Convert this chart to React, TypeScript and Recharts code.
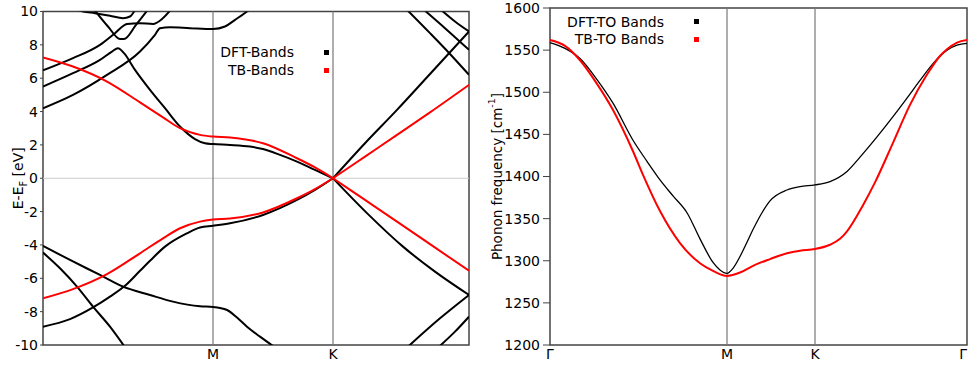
import React from 'react';
import {
  LineChart,
  Line,
  XAxis,
  YAxis,
  ReferenceLine,
  ReferenceArea,
  Legend,
} from 'recharts';

// ---- left panel: electronic bands, k-path in path units (Γ=0 … Γ=426), energies in eV
const bandPathEnd = 426;
const bandTicks = [170, 290];
const bandTickLabels = ['M', 'K'];
const energyTicks = [-10, -8, -6, -4, -2, 0, 2, 4, 6, 8, 10];

const dftBandA = [[25, 10.3], [40, 10.0], [52, 9.9], [67, 9.75], [80, 9.6], [87, 9.7], [93, 10.2]];
const dftBandB = [[50, 10.2], [65, 9.1], [77, 8.35], [81, 8.35], [93, 9.2], [106, 10.2]];
const dftBandC = [[0, 6.47], [30, 7.2], [57, 8.0], [72, 8.7], [84, 9.25], [97, 9.3], [110, 9.25], [119, 9.55], [129, 10.2]];
const dftBandD = [[0, 5.5], [30, 6.3], [57, 7.1], [69, 7.6], [75, 7.8], [81, 7.5], [92, 6.5], [107, 5.3], [122, 4.2], [137, 3.1], [152, 2.35], [162, 2.1], [170, 2.05], [187, 2.0], [207, 1.9], [220, 1.75], [237, 1.4], [254, 1.0], [272, 0.5], [290, 0]];
const dftBandDk = [[290, 0], [322, 2.1], [354, 4.1], [387, 6.25], [426, 8.8]];
const dftBandE = [[0, 4.2], [30, 5.0], [64, 6.2], [97, 7.6], [112, 8.6], [117, 9.0], [127, 9.05], [147, 9.0], [170, 8.95], [182, 9.1], [192, 9.5], [204, 10.0], [212, 10.4]];
const dftBandF = [[364, 10.1], [387, 8.7], [407, 7.45], [426, 6.2]];
const dftBandG = [[381, 10.1], [402, 9.0], [426, 7.7]];
const dftBandH = [[398, 10.1], [412, 9.4], [426, 8.8]];
const dftBandI = [[0, -4.06], [27, -4.9], [57, -5.8], [80, -6.5], [107, -7.0], [130, -7.4], [157, -7.68], [170, -7.72], [184, -7.9], [194, -8.35], [204, -8.9], [217, -9.5], [231, -10.1]];
const dftBandJ = [[0, -4.46], [17, -5.4], [34, -6.5], [50, -7.7], [67, -8.9], [81, -10.05]];
const dftBandK = [[0, -8.9], [27, -8.45], [50, -7.75], [67, -7.1], [82, -6.45], [97, -5.55], [107, -4.95], [122, -4.1], [144, -3.3], [157, -2.95], [170, -2.85], [187, -2.7], [220, -2.2], [254, -1.3], [272, -0.7], [290, 0]];
const dftBandKk = [[290, 0], [325, -2.15], [360, -4.1], [392, -5.6], [426, -7.0]];
const dftBandL = [[365, -10.1], [397, -8.4], [426, -7.0]];
const dftBandM = [[397, -10.05], [412, -9.2], [426, -8.3]];

const tbBandUp = [[0, 7.25], [30, 6.7], [64, 5.8], [97, 4.55], [120, 3.65], [137, 3.0], [157, 2.6], [170, 2.5], [187, 2.45], [220, 2.1], [254, 1.2], [272, 0.65], [290, 0]];
const tbBandUpK = [[290, 0], [322, 1.3], [354, 2.6], [387, 3.95], [426, 5.6]];
const tbBandLow = [[0, -7.2], [30, -6.65], [64, -5.75], [97, -4.5], [120, -3.6], [137, -3.0], [157, -2.6], [170, -2.48], [187, -2.42], [220, -2.05], [254, -1.2], [272, -0.65], [290, 0]];
const tbBandLowK = [[290, 0], [322, -1.3], [354, -2.6], [387, -3.95], [426, -5.55]];

const dftBands = [dftBandA, dftBandB, dftBandC, dftBandD, dftBandDk, dftBandE, dftBandF, dftBandG, dftBandH, dftBandI, dftBandJ, dftBandK, dftBandKk, dftBandL, dftBandM];
const tbBands = [tbBandUp, tbBandUpK, tbBandLow, tbBandLowK];

// ---- right panel: TO phonon branch, path units (Γ=0 … Γ=417), cm^-1
const phononPathEnd = 417;
const phononTicks = [0, 177, 265, 417];
const phononTickLabels = ['Γ', 'M', 'K', 'Γ'];
const freqTicks = [1200, 1250, 1300, 1350, 1400, 1450, 1500, 1550, 1600];

const dftTO = [[0, 1559], [15, 1552], [30, 1540], [47, 1515], [63, 1487], [83, 1443], [97, 1418], [110, 1396], [123, 1377], [137, 1357], [150, 1326], [163, 1298], [170, 1289], [177, 1285], [183, 1291], [190, 1305], [197, 1322], [203, 1337], [212, 1357], [220, 1371], [237, 1384], [250, 1388], [265, 1390], [280, 1394], [297, 1406], [310, 1423], [327, 1447], [343, 1471], [357, 1493], [370, 1514], [383, 1534], [397, 1550], [407, 1556], [417, 1558]];
const tbTO = [[0, 1562], [15, 1555], [30, 1538], [47, 1510], [63, 1479], [83, 1430], [93, 1402], [110, 1359], [130, 1321], [150, 1297], [163, 1288], [177, 1282], [190, 1286], [203, 1294], [220, 1302], [237, 1309], [250, 1312], [265, 1314], [280, 1319], [290, 1326], [297, 1335], [313, 1366], [325, 1393], [343, 1440], [360, 1485], [377, 1521], [390, 1543], [397, 1551], [407, 1559], [417, 1562]];

const bandLegend = [
  { name: 'DFT-Bands', color: '#000000' },
  { name: 'TB-Bands', color: '#ff0000' },
];
const phononLegend = [
  { name: 'DFT-TO Bands', color: '#000000' },
  { name: 'TB-TO Bands', color: '#ff0000' },
];

const FONT = '"DejaVu Sans", Verdana, sans-serif';
const toPts = (arr: number[][]) => arr.map(([k, v]) => ({ k, v }));

const AxisTitle = (props: any) => {
  const { viewBox, main, sub, sup, tail, dx } = props;
  const cx = viewBox.x + dx;
  const cy = viewBox.y + viewBox.height / 2;
  return (
    <text
      x={cx}
      y={cy}
      transform={`rotate(-90 ${cx} ${cy})`}
      textAnchor="middle"
      dominantBaseline="central"
      fontFamily={FONT}
      fontSize={props.size}
      fill="#000"
    >
      {main}
      {sub && <tspan baselineShift="sub" fontSize="70%">{sub}</tspan>}
      {sup && <tspan baselineShift="super" fontSize="70%">{sup}</tspan>}
      {tail && <tspan baselineShift="0">{tail}</tspan>}
    </text>
  );
};

// path tick: the last Γ sits on the frame edge, so it is anchored to its right end
const PathTick = (props: any) => {
  const { x, y, payload, labels, ticks, end } = props;
  const isEnd = payload.value === end;
  return (
    <text x={x} y={y} dy="0.71em" textAnchor={isEnd ? 'end' : 'middle'} fontFamily={FONT} fontSize={14} fill="#000">
      {labels[ticks.indexOf(payload.value)]}
    </text>
  );
};

const legendBox = (items: { name: string; color: string }[], rowH: number) => () => (
  <div style={{ fontFamily: FONT, fontSize: 14, color: '#000' }}>
    {items.map((it) => (
      <div key={it.name} style={{ display: 'flex', justifyContent: 'flex-end', alignItems: 'center', height: rowH }}>
        <span style={{ marginRight: 30 }}>{it.name}</span>
        <span style={{ width: 5, height: 5, background: it.color, marginRight: 1 }} />
      </div>
    ))}
  </div>
);

const BandChart = () => (
  <LineChart width={480} height={367} margin={{ top: 11.5, right: 11, bottom: 2, left: 3 }}>
    <XAxis
      dataKey="k"
      type="number"
      domain={[0, bandPathEnd]}
      ticks={bandTicks}
      tick={<PathTick labels={bandTickLabels} ticks={bandTicks} end={-1} />}
      tickSize={0}
      tickMargin={4}
      tickLine={false}
      axisLine={false}
      height={20}
      allowDataOverflow
    />
    <YAxis
      type="number"
      domain={[-10, 10]}
      ticks={energyTicks}
      tick={{ fill: '#000', fontSize: 14, fontFamily: FONT }}
      tickSize={3}
      tickMargin={2}
      tickLine={{ stroke: '#444' }}
      axisLine={false}
      width={40}
      allowDataOverflow
      label={<AxisTitle dx={15} size={14} main="E-E" sub="F" tail=" [eV]" />}
    />
    <YAxis yAxisId="r" orientation="right" mirror type="number" domain={[-10, 10]} ticks={energyTicks} tick={false} tickSize={4} tickLine={{ stroke: '#444' }} axisLine={false} width={0} />
    <ReferenceLine y={0} stroke="#cccccc" strokeWidth={1} />
    {bandTicks.map((t) => (
      <ReferenceLine key={t} x={t} stroke="#777" strokeWidth={1.2} />
    ))}
    {dftBands.map((b, i) => (
      <Line key={'d' + i} data={toPts(b)} dataKey="v" type="monotone" stroke="#000" strokeWidth={2} dot={false} activeDot={false} isAnimationActive={false} />
    ))}
    {tbBands.map((b, i) => (
      <Line key={'t' + i} data={toPts(b)} dataKey="v" type="monotone" stroke="#ff0000" strokeWidth={2} dot={false} activeDot={false} isAnimationActive={false} />
    ))}
    <ReferenceArea x1={0} x2={bandPathEnd} y1={-10} y2={10} fill="none" stroke="#444" strokeWidth={1.5} />
    <Legend layout="vertical" align="center" verticalAlign="middle" wrapperStyle={{ left: 180, top: 43, width: 150 }} content={legendBox(bandLegend, 18)} />
  </LineChart>
);

const PhononChart = () => (
  <LineChart width={488} height={367} margin={{ top: 8, right: 1, bottom: 2, left: 8 }}>
    <XAxis
      dataKey="k"
      type="number"
      domain={[0, phononPathEnd]}
      ticks={phononTicks}
      tick={<PathTick labels={phononTickLabels} ticks={phononTicks} end={phononPathEnd} />}
      tickSize={0}
      tickMargin={4}
      tickLine={false}
      axisLine={false}
      height={20}
      interval={0}
    />
    <YAxis
      type="number"
      domain={[1200, 1600]}
      ticks={freqTicks}
      tick={{ fill: '#000', fontSize: 14, fontFamily: FONT }}
      tickSize={7}
      tickMargin={3}
      tickLine={{ stroke: '#444' }}
      axisLine={false}
      width={62}
      allowDataOverflow
      label={<AxisTitle dx={9} size={13.5} main="Phonon frequency [cm" sup="-1" tail="]" />}
    />
    <YAxis yAxisId="r" orientation="right" mirror type="number" domain={[1200, 1600]} ticks={freqTicks} tick={false} tickSize={4} tickLine={{ stroke: '#444' }} axisLine={false} width={0} />
    {phononTicks.slice(1, 3).map((t) => (
      <ReferenceLine key={t} x={t} stroke="#777" strokeWidth={1.2} />
    ))}
    <Line data={toPts(dftTO)} dataKey="v" type="monotone" stroke="#000" strokeWidth={1.3} dot={false} activeDot={false} isAnimationActive={false} />
    <Line data={toPts(tbTO)} dataKey="v" type="monotone" stroke="#ff0000" strokeWidth={2} dot={false} activeDot={false} isAnimationActive={false} />
    <ReferenceArea x1={0} x2={phononPathEnd} y1={1200} y2={1600} fill="none" stroke="#444" strokeWidth={1.5} />
    <Legend layout="vertical" align="center" verticalAlign="middle" wrapperStyle={{ left: 60, top: 13, width: 160 }} content={legendBox(phononLegend, 17.5)} />
  </LineChart>
);

export default function App() {
  return (
    <div style={{ position: 'absolute', left: 0, top: 0, width: 968, height: 367, background: '#fff' }}>
      <div style={{ position: 'absolute', left: 0, top: 0 }}>
        <BandChart />
      </div>
      <div style={{ position: 'absolute', left: 480, top: 0 }}>
        <PhononChart />
      </div>
    </div>
  );
}
